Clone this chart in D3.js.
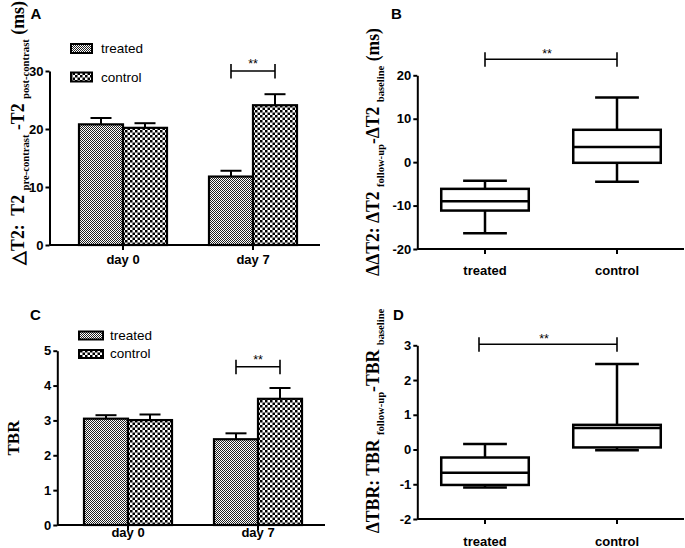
<!DOCTYPE html>
<html><head><meta charset="utf-8">
<script src="https://cdn.jsdelivr.net/npm/d3@7"></script>
<style>body{margin:0;background:#fff}svg{display:block}</style>
</head><body><div id="chart"></div>
<script>
// ---------- data ----------
const barCategories = ["day 0", "day 7"];
const seriesNames = ["treated", "control"];
const t2Treated = [20.8, 11.8];
const t2TreatedErr = [1.1, 1.0];
const t2Control = [20.2, 24.1];
const t2ControlErr = [0.8, 1.9];
const tbrTreated = [3.05, 2.46];
const tbrTreatedErr = [0.10, 0.17];
const tbrControl = [3.01, 3.62];
const tbrControlErr = [0.16, 0.31];
const boxGroups = ["treated", "control"];
// [min, q1, median, q3, max]
const dT2Treated = [-16.4, -11.15, -9.0, -6.15, -4.3];
const dT2Control = [-4.5, -0.15, 3.5, 7.45, 14.9];
const dTBRTreated = [-1.09, -1.02, -0.67, -0.23, 0.16];
const dTBRControl = [-0.02, 0.06, 0.62, 0.71, 2.46];
const ticksA = [0, 10, 20, 30];
const ticksB = [-20, -10, 0, 10, 20];
const ticksC = [0, 1, 2, 3, 4, 5];
const ticksD = [-2, -1, 0, 1, 2, 3];
const sigMark = "**";

// ---------- setup ----------
const SANS = "'Liberation Sans', Arial, Helvetica, sans-serif";
const SERIF = "'Liberation Serif', 'Times New Roman', serif";
const svg = d3.select("#chart").append("svg").attr("width", 685).attr("height", 548);
svg.append("rect").attr("width", 685).attr("height", 548).attr("fill", "#fff");

const defs = svg.append("defs");
const pT = defs.append("pattern").attr("id", "pat-treated").attr("patternUnits", "userSpaceOnUse")
  .attr("width", 2).attr("height", 2);
pT.append("rect").attr("width", 2).attr("height", 2).attr("fill", "#fff");
pT.append("rect").attr("width", 1).attr("height", 1).attr("fill", "#222");
pT.append("rect").attr("x", 1).attr("y", 1).attr("width", 1).attr("height", 1).attr("fill", "#222");
const pC = defs.append("pattern").attr("id", "pat-control").attr("patternUnits", "userSpaceOnUse")
  .attr("width", 5).attr("height", 5);
pC.append("rect").attr("width", 5).attr("height", 5).attr("fill", "#fff");
pC.append("rect").attr("width", 2.5).attr("height", 2.5).attr("fill", "#000");
pC.append("rect").attr("x", 2.5).attr("y", 2.5).attr("width", 2.5).attr("height", 2.5).attr("fill", "#000");
const patOf = s => `url(#pat-${s})`;

function yAxis(y, ticks, x) {
  const ax = svg.append("g").attr("transform", `translate(${x},0)`)
    .call(d3.axisLeft(y).tickValues(ticks).tickSize(4).tickPadding(2).tickSizeOuter(0).tickFormat(d => String(d)));
  ax.select(".domain").attr("stroke", "#000").attr("stroke-width", 2);
  ax.selectAll(".tick line").attr("stroke", "#000").attr("stroke-width", 2);
  ax.selectAll("text").attr("font-family", SANS).attr("font-weight", "bold").attr("font-size", 13).attr("fill", "#000");
}
function xAxis(band, yPix, x0, x1, labelBase) {
  const g = svg.append("g");
  g.append("line").attr("x1", x0).attr("x2", x1).attr("y1", yPix).attr("y2", yPix)
    .attr("stroke", "#000").attr("stroke-width", 2);
  const bw = band.bandwidth();
  band.domain().forEach(c => {
    const cx = band(c) + bw / 2;
    g.append("line").attr("x1", cx).attr("x2", cx).attr("y1", yPix).attr("y2", yPix + 5)
      .attr("stroke", "#000").attr("stroke-width", 2);
    g.append("text").attr("x", cx).attr("y", labelBase).attr("text-anchor", "middle")
      .attr("font-family", SANS).attr("font-weight", "bold").attr("font-size", 13).text(c);
  });
}
function letter(t, x, y) {
  svg.append("text").attr("x", x).attr("y", y).attr("font-family", SANS).attr("font-weight", "bold")
    .attr("font-size", 15).text(t);
}
function sigBracket(xa, xb, yPix, textX, textY) {
  const g = svg.append("g").attr("stroke", "#000").attr("stroke-width", 1.6);
  g.append("line").attr("x1", xa).attr("x2", xb).attr("y1", yPix).attr("y2", yPix);
  g.append("line").attr("x1", xa).attr("x2", xa).attr("y1", yPix - 7).attr("y2", yPix + 7.5);
  g.append("line").attr("x1", xb).attr("x2", xb).attr("y1", yPix - 7).attr("y2", yPix + 7.5);
  svg.append("text").attr("x", textX).attr("y", textY).attr("text-anchor", "middle")
    .attr("font-family", SANS).attr("font-size", 12.5).text(sigMark);
}
function rotLabel(parts, bx, cy, target, size) {
  const g = svg.append("g").attr("transform", `translate(${bx},${cy}) rotate(-90)`);
  const t = g.append("text").attr("text-anchor", "middle").attr("font-family", SERIF)
    .attr("font-weight", "bold").attr("font-size", size).style("white-space", "pre");
  let shifted = false;
  parts.forEach(p => {
    const ts = t.append("tspan").text(p.t);
    if (p.sub && !shifted) { ts.attr("dy", size * 0.25).attr("font-size", size * 0.6); shifted = true; }
    else if (p.sub) { ts.attr("font-size", size * 0.6); }
    else if (shifted) { ts.attr("dy", -size * 0.25); shifted = false; }
  });
  if (target) {
    const w = t.node().getBBox().width;
    t.attr("transform", `scale(${target / w},1)`);
  }
}
function legend(x, y0, dy, sw, sh, tx) {
  seriesNames.forEach((s, i) => {
    const top = y0 + i * dy;
    svg.append("rect").attr("x", x).attr("y", top).attr("width", sw).attr("height", sh)
      .attr("fill", patOf(s)).attr("stroke", "#000").attr("stroke-width", 2);
    svg.append("text").attr("x", tx).attr("y", top + sh).attr("font-family", SANS)
      .attr("font-size", 13.5).text(s);
  });
}

function barPanel(cfg) {
  const y = d3.scaleLinear().domain(cfg.domain).range(cfg.yRange);
  const x = d3.scaleBand().domain(barCategories).range(cfg.bandRange).paddingInner(0.323).paddingOuter(0.1615);
  const sub = d3.scaleBand().domain(seriesNames).range([0, x.bandwidth()]);
  const means = { treated: cfg.treated, control: cfg.control };
  const errs = { treated: cfg.treatedErr, control: cfg.controlErr };
  barCategories.forEach((c, i) => {
    seriesNames.forEach(s => {
      const bx = x(c) + sub(s), bw = sub.bandwidth(), cx = bx + bw / 2;
      const m = means[s][i], e = errs[s][i];
      svg.append("line").attr("x1", cx).attr("x2", cx).attr("y1", y(m)).attr("y2", y(m + e))
        .attr("stroke", "#000").attr("stroke-width", 2);
      svg.append("line").attr("x1", cx - 10.5).attr("x2", cx + 10.5).attr("y1", y(m + e)).attr("y2", y(m + e))
        .attr("stroke", "#000").attr("stroke-width", 2);
      svg.append("rect").attr("x", bx).attr("y", y(m)).attr("width", bw).attr("height", y(0) - y(m))
        .attr("fill", patOf(s)).attr("stroke", "#000").attr("stroke-width", 2.2);
    });
  });
  yAxis(y, cfg.ticks, cfg.axisX);
  xAxis(x, y(cfg.domain[0]), cfg.axisX, cfg.axisEnd, cfg.labelBase);
  const c = barCategories[1];
  const xa = x(c) + sub("treated") + sub.bandwidth() / 2;
  const xb = x(c) + sub("control") + sub.bandwidth() / 2;
  sigBracket(xa, xb, y(cfg.sigValue), (xa + xb) / 2, y(cfg.sigValue) - 3);
}

function boxPanel(cfg) {
  const y = d3.scaleLinear().domain(cfg.domain).range(cfg.yRange);
  const x = d3.scaleBand().domain(boxGroups).range(cfg.bandRange).paddingInner(0.337).paddingOuter(0.1685);
  const bw = x.bandwidth();
  const data = { treated: cfg.treated, control: cfg.control };
  boxGroups.forEach(gname => {
    const [mn, q1, md, q3, mx] = data[gname];
    const x0 = x(gname), cx = x0 + bw / 2;
    const g = svg.append("g").attr("stroke", "#000").attr("stroke-width", 2.5).attr("fill", "none");
    g.append("line").attr("x1", cx).attr("x2", cx).attr("y1", y(q3)).attr("y2", y(mx));
    g.append("line").attr("x1", cx).attr("x2", cx).attr("y1", y(q1)).attr("y2", y(mn));
    g.append("line").attr("x1", cx - bw / 4).attr("x2", cx + bw / 4).attr("y1", y(mx)).attr("y2", y(mx));
    g.append("line").attr("x1", cx - bw / 4).attr("x2", cx + bw / 4).attr("y1", y(mn)).attr("y2", y(mn));
    g.append("rect").attr("x", x0).attr("y", y(q3)).attr("width", bw).attr("height", y(q1) - y(q3)).attr("fill", "#fff");
    g.append("line").attr("x1", x0).attr("x2", x0 + bw).attr("y1", y(md)).attr("y2", y(md));
  });
  yAxis(y, cfg.ticks, cfg.axisX);
  xAxis(x, y(cfg.domain[0]), cfg.axisX, cfg.axisEnd, cfg.labelBase);
  const xa = x(boxGroups[0]) + bw / 2 + cfg.sigShift, xb = x(boxGroups[1]) + bw / 2;
  sigBracket(xa, xb, y(cfg.sigValue), (xa + xb) / 2 - 4, y(cfg.sigValue) - 1.5);
}

// ---------- Panel A ----------
barPanel({ domain: [0, 30], yRange: [245, 71], ticks: ticksA, bandRange: [58, 318], axisX: 49.5, axisEnd: 320,
  labelBase: 264, treated: t2Treated, treatedErr: t2TreatedErr, control: t2Control, controlErr: t2ControlErr, sigValue: 30 });
legend(71, 44, 28.5, 21, 9, 101);
letter("A", 30.5, 18.5);
rotLabel([{ t: "\u25B3T2:  T2 " }, { t: "pre-contrast", sub: true }, { t: " -T2 " }, { t: "post-contrast", sub: true }, { t: " (ms)" }],
  24, 133, 265, 18);

// ---------- Panel B ----------
boxPanel({ domain: [-20, 20], yRange: [249, 75.3], ticks: ticksB, bandRange: [419, 683], axisX: 417.3, axisEnd: 684,
  labelBase: 275, treated: dT2Treated, control: dT2Control, sigValue: 23.7, sigShift: 0 });
letter("B", 391, 18.5);
rotLabel([{ t: "\u0394\u0394T2: \u0394T2 " }, { t: "follow-up", sub: true }, { t: "-\u0394T2 " }, { t: "baseline", sub: true }, { t: " (ms)" }],
  379, 152, 248, 18);

// ---------- Panel C ----------
barPanel({ domain: [0, 5], yRange: [525, 350.7], ticks: ticksC, bandRange: [63, 323], axisX: 57.3, axisEnd: 325,
  labelBase: 537, treated: tbrTreated, treatedErr: tbrTreatedErr, control: tbrControl, controlErr: tbrControlErr, sigValue: 4.54 });
legend(79, 331.5, 18.5, 24, 8, 110);
letter("C", 30, 319.5);
rotLabel([{ t: "TBR" }], 18.5, 438, null, 17);

// ---------- Panel D ----------
boxPanel({ domain: [-2, 3], yRange: [519, 345.3], ticks: ticksD, bandRange: [419, 683], axisX: 417.3, axisEnd: 684,
  labelBase: 546, treated: dTBRTreated, control: dTBRControl, sigValue: 3.03, sigShift: -6 });
letter("D", 393, 320);
rotLabel([{ t: "\u0394TBR: TBR " }, { t: "follow-up", sub: true }, { t: "-TBR " }, { t: "baseline", sub: true }],
  379, 421, 225, 18);
</script></body></html>
